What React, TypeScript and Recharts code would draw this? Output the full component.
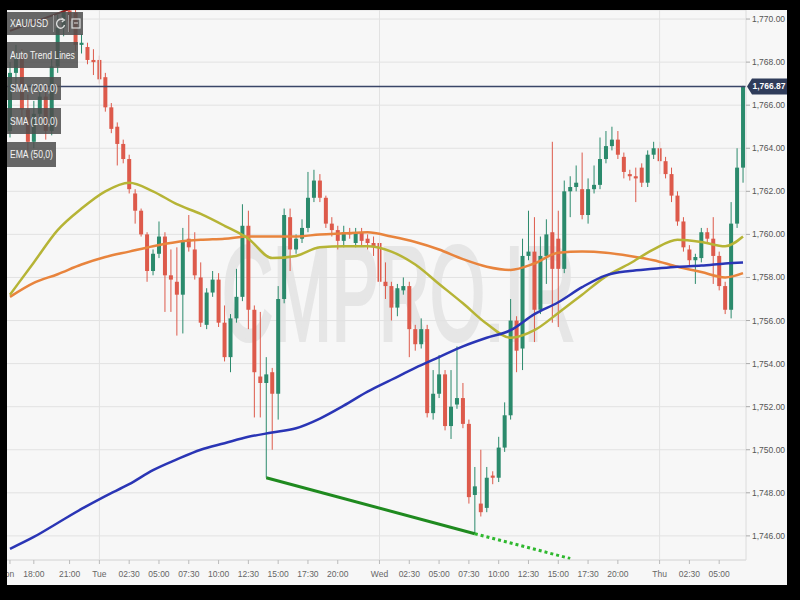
import { Bar, CartesianGrid, ComposedChart, Line, ReferenceLine, XAxis, YAxis } from 'recharts'

// 30-minute XAU/USD candles (Mon evening .. Thu morning)
const opens = [
  1764.8, 1767.5, 1768.3, 1765.8, 1764.3, 1765.6, 1766.4, 1764.8, 1767.8, 1769.6,
  1770.4, 1770.3, 1768.8, 1768.7, 1768.1, 1768.1, 1767.3, 1765.9, 1765.0, 1764.2,
  1763.5, 1761.9, 1761.1, 1760.0, 1758.3, 1759.1, 1759.9, 1758.1, 1757.8, 1757.2,
  1759.8, 1759.3, 1758.0, 1755.8, 1757.3, 1757.9, 1755.9, 1754.3, 1756.1, 1757.1,
  1760.4, 1756.5, 1753.4, 1753.1, 1753.6, 1752.6, 1757.0, 1760.8, 1759.3, 1759.8,
  1760.3, 1761.7, 1762.5, 1761.7, 1760.5, 1760.2, 1759.7, 1760.1, 1759.6, 1760.1,
  1759.8, 1759.6, 1759.6, 1757.8, 1757.6, 1756.6, 1757.4, 1757.6, 1755.6, 1754.9,
  1755.6, 1751.7, 1752.6, 1753.5, 1751.1, 1752.1, 1752.4, 1751.2, 1747.9, 1747.5,
  1747.3, 1748.8, 1748.7, 1750.1, 1751.6, 1756.0, 1754.7, 1759.0, 1759.2, 1756.5,
  1759.0, 1760.1, 1759.8, 1758.4, 1762.0, 1762.2, 1762.1, 1760.9, 1762.1, 1762.3,
  1763.5, 1764.1, 1764.4, 1763.6, 1762.8, 1762.7, 1763.1, 1762.4, 1763.7, 1764.0,
  1763.4, 1762.8, 1761.8, 1760.6, 1759.3, 1758.8, 1758.9, 1760.1, 1759.8, 1759.0,
  1757.6, 1756.5, 1760.5, 1763.1,
]
const highs = [
  1768.0, 1768.8, 1768.6, 1766.5, 1766.2, 1767.0, 1766.8, 1768.2, 1770.2, 1770.6,
  1770.6, 1770.5, 1769.3, 1768.9, 1768.6, 1768.3, 1767.5, 1766.1, 1765.2, 1764.4,
  1763.7, 1762.1, 1761.2, 1760.1, 1759.3, 1760.6, 1760.1, 1759.3, 1759.4, 1760.3,
  1760.9, 1760.1, 1758.7, 1757.5, 1758.3, 1758.2, 1756.7, 1756.3, 1758.4, 1761.4,
  1761.1, 1756.7, 1756.4, 1754.3, 1753.8, 1757.6, 1761.2, 1761.2, 1760.0, 1760.7,
  1762.9, 1763.0, 1762.8, 1761.8, 1760.8, 1760.4, 1760.4, 1760.3, 1760.3, 1760.3,
  1760.0, 1759.9, 1759.8, 1758.7, 1757.8, 1757.7, 1758.0, 1757.8, 1755.8, 1756.1,
  1755.8, 1753.7, 1754.4, 1753.7, 1753.7, 1754.8, 1753.1, 1751.4, 1749.2, 1750.0,
  1749.2, 1749.0, 1750.6, 1752.2, 1757.0, 1756.2, 1759.8, 1761.1, 1760.8, 1759.9,
  1760.7, 1764.3, 1761.1, 1762.5, 1762.7, 1763.2, 1763.8, 1762.6, 1763.2, 1764.5,
  1764.8, 1765.0, 1764.8, 1763.8, 1763.0, 1763.1, 1763.3, 1763.9, 1764.3, 1764.3,
  1763.6, 1763.1, 1762.0, 1760.8, 1759.5, 1759.1, 1760.3, 1760.3, 1760.8, 1759.2,
  1757.8, 1761.5, 1764.0, 1766.9,
]
const lows = [
  1764.5, 1767.0, 1765.2, 1763.9, 1764.0, 1765.2, 1764.4, 1764.6, 1767.5, 1769.2,
  1769.4, 1768.5, 1768.4, 1767.9, 1767.4, 1767.0, 1765.7, 1764.7, 1763.2, 1763.3,
  1761.9, 1760.5, 1759.9, 1757.8, 1758.1, 1758.9, 1756.4, 1756.4, 1755.3, 1755.4,
  1759.2, 1757.9, 1755.7, 1755.6, 1757.1, 1755.7, 1754.1, 1753.6, 1755.9, 1756.9,
  1755.6, 1751.5, 1751.5, 1748.7, 1750.0, 1751.4, 1756.8, 1758.3, 1759.1, 1759.6,
  1760.1, 1761.5, 1761.5, 1760.3, 1759.9, 1759.3, 1759.4, 1759.8, 1759.4, 1759.5,
  1759.3, 1759.0, 1757.6, 1757.0, 1756.0, 1756.2, 1757.2, 1754.3, 1754.6, 1754.7,
  1751.5, 1751.4, 1752.4, 1750.9, 1750.5, 1751.9, 1751.0, 1747.5, 1746.1, 1746.9,
  1747.1, 1748.4, 1748.5, 1749.9, 1751.4, 1753.6, 1753.7, 1758.8, 1755.0, 1756.3,
  1757.7, 1755.9, 1755.7, 1758.2, 1760.8, 1762.0, 1760.7, 1760.5, 1761.9, 1762.1,
  1763.3, 1763.9, 1763.5, 1762.6, 1762.5, 1761.5, 1762.2, 1762.2, 1763.5, 1762.8,
  1762.6, 1761.5, 1760.4, 1759.2, 1758.5, 1757.7, 1758.7, 1759.6, 1757.7, 1757.4,
  1756.3, 1756.1, 1760.3, 1762.4,
]
const closes = [
  1767.5, 1768.3, 1765.8, 1764.3, 1765.6, 1766.4, 1764.8, 1767.8, 1769.6, 1770.4,
  1769.9, 1768.8, 1768.9, 1768.1, 1768.0, 1767.2, 1765.9, 1764.9, 1764.2, 1763.5,
  1762.1, 1761.1, 1760.0, 1758.3, 1759.1, 1759.9, 1758.1, 1757.9, 1757.2, 1759.7,
  1759.4, 1758.1, 1755.9, 1757.3, 1757.9, 1755.9, 1754.3, 1756.1, 1757.1, 1760.4,
  1756.5, 1753.6, 1753.1, 1753.5, 1752.6, 1757.0, 1760.9, 1759.3, 1759.8, 1760.3,
  1761.7, 1762.5, 1761.7, 1760.5, 1760.2, 1759.7, 1760.1, 1760.0, 1760.1, 1759.7,
  1759.6, 1759.4, 1757.8, 1757.6, 1756.6, 1757.5, 1757.6, 1755.6, 1754.9, 1755.6,
  1751.7, 1752.6, 1753.5, 1751.1, 1752.0, 1752.4, 1751.2, 1747.8, 1748.3, 1747.1,
  1748.7, 1748.7, 1750.1, 1751.6, 1756.0, 1754.6, 1759.0, 1759.2, 1756.5, 1759.0,
  1760.0, 1758.4, 1758.4, 1762.0, 1762.2, 1762.4, 1760.9, 1762.1, 1762.3, 1763.5,
  1764.1, 1764.4, 1763.7, 1762.9, 1762.7, 1762.6, 1762.4, 1763.7, 1764.0, 1763.4,
  1762.8, 1761.8, 1760.6, 1759.4, 1758.8, 1758.95, 1760.1, 1759.8, 1759.0, 1757.6,
  1756.5, 1760.5, 1763.1, 1766.87,
]

// moving averages, sampled every 4th candle
const lineIdx = [0, 4, 8, 12, 16, 20, 24, 28, 32, 36, 40, 44, 48, 52, 56, 60, 64, 68, 72, 76, 80, 84, 88, 92, 96, 100, 104, 108, 112, 116, 120, 123]
const ema50 = [
  1757.2, 1758.7, 1760.2, 1761.2, 1762.0, 1762.4, 1762.0, 1761.4, 1760.95, 1760.4,
  1759.8, 1758.9, 1759.0, 1759.4, 1759.45, 1759.45, 1759.2, 1758.6, 1757.7, 1756.8,
  1755.85, 1755.2, 1755.55, 1756.35, 1757.2, 1758.05, 1758.65, 1759.3, 1759.75, 1759.65,
  1759.45, 1759.9,
]
const sma100 = [
  1757.1, 1757.75, 1758.15, 1758.6, 1758.95, 1759.2, 1759.45, 1759.65, 1759.75, 1759.8,
  1759.9, 1759.9, 1759.9, 1760.0, 1760.05, 1760.1, 1759.9, 1759.65, 1759.3, 1758.85,
  1758.5, 1758.35, 1758.65, 1759.15, 1759.2, 1759.15, 1759.0, 1758.8, 1758.5, 1758.25,
  1758.0, 1758.2,
]
const sma200 = [
  1745.4, 1745.95, 1746.6, 1747.25, 1747.85, 1748.4, 1749.05, 1749.55, 1750.0, 1750.3,
  1750.6, 1750.8, 1751.0, 1751.45, 1752.05, 1752.7, 1753.25, 1753.8, 1754.3, 1754.8,
  1755.2, 1755.55, 1756.3, 1756.85, 1757.55, 1758.1, 1758.3, 1758.4, 1758.5, 1758.55,
  1758.65, 1758.7,
]

// auto trend lines
const supportIdx = [43, 78]
const supportVal = [1748.7, 1746.1]
const supportExtIdx = [78, 94]
const supportExtVal = [1746.1, 1744.95]
const resistIdx = [0, 10]
const resistVal = [1769.45, 1770.46]

const tickIdx = [0, 4, 10, 15, 20, 25, 30, 35, 40, 45, 50, 55, 62, 67, 72, 77, 82, 87, 92, 97, 102, 109, 114, 119]
const tickLabels = [
  'Mon', '18:00', '21:00', 'Tue', '02:30', '05:00', '07:30', '10:00', '12:30', '15:00', '17:30', '20:00',
  'Wed', '02:30', '05:00', '07:30', '10:00', '12:30', '15:00', '17:30', '20:00', 'Thu', '02:30', '05:00',
]
const dayStarts = [15, 62, 109]
const priceTicks = [1746, 1748, 1750, 1752, 1754, 1756, 1758, 1760, 1762, 1764, 1766, 1768, 1770]

const GREEN = '#2b8a6c'
const RED = '#dd5a4b'
const FONT = "'Liberation Sans', Arial, sans-serif"

const pick = (idx: number[], vals: number[], i: number) => {
  const k = idx.indexOf(i)
  return k >= 0 ? vals[k] : null
}

const data = opens.map((o, i) => ({
  i,
  o,
  h: highs[i],
  l: lows[i],
  c: closes[i],
  range: [lows[i], highs[i]],
  ema: pick(lineIdx, ema50, i),
  sma100: pick(lineIdx, sma100, i),
  sma200: pick(lineIdx, sma200, i),
  support: pick(supportIdx, supportVal, i),
  supportExt: pick(supportExtIdx, supportExtVal, i),
  resist: pick(resistIdx, resistVal, i),
}))

const fmtPrice = (v: number) =>
  v.toLocaleString('en-US', { minimumFractionDigits: 2, maximumFractionDigits: 2 })

function Candle(props: any) {
  const { x, y, width, height, payload } = props
  if (!payload || width == null) return null
  const top = Math.min(y, y + height)
  const bot = Math.max(y, y + height)
  const { o, h, l, c } = payload
  const span = h - l || 1
  const py = (p: number) => top + ((h - p) / span) * (bot - top)
  const color = c >= o ? GREEN : RED
  const cx = x + width / 2
  const bt = py(Math.max(o, c))
  const bb = py(Math.min(o, c))
  return (
    <g>
      <line x1={cx} x2={cx} y1={top} y2={bot} stroke={color} strokeWidth={1} />
      <rect x={x} y={bt} width={width} height={Math.max(1, bb - bt)} fill={color} />
    </g>
  )
}

function PriceTag(props: any) {
  const vb = props.viewBox
  if (!vb) return null
  const x0 = vb.x + vb.width
  const y0 = vb.y
  return (
    <g>
      <path
        d={`M${x0 + 1},${y0} L${x0 + 6},${y0 - 8} L${x0 + 41},${y0 - 8} L${x0 + 41},${y0 + 8} L${x0 + 6},${y0 + 8} Z`}
        fill="#2f3c5a"
      />
      <text x={x0 + 23} y={y0} dy="0.35em" textAnchor="middle" fill="#fff" fontSize={8.5} fontWeight="bold" fontFamily={FONT}>
        {fmtPrice(closes[closes.length - 1])}
      </text>
    </g>
  )
}

function TimeTick(props: any) {
  const { x, y, payload } = props
  const k = tickIdx.indexOf(payload.value)
  const label = k >= 0 ? tickLabels[k] : ''
  return (
    <text x={label === 'Mon' ? x - 4 : x} y={y} dy="0.71em" textAnchor="middle" fontSize={8.5} fill="#666" fontFamily={FONT}>
      {label}
    </text>
  )
}

function PriceTick(props: any) {
  const { x, y, payload } = props
  return (
    <text x={x} y={y} dy="0.35em" textAnchor="start" fontSize={8.5} fill="#555" fontFamily={FONT}>
      {fmtPrice(payload.value)}
    </text>
  )
}

const boxStyle = {
  position: 'absolute' as const,
  left: 0,
  background: 'rgba(78,78,78,0.86)',
  color: '#f2f2f2',
  fontFamily: FONT,
  fontSize: 11,
  paddingLeft: 3,
  boxSizing: 'border-box' as const,
  whiteSpace: 'nowrap' as const,
}
const squeeze = { display: 'inline-block', transform: 'scaleX(0.78)', transformOrigin: 'left center' }

export default function App() {
  return (
    <div style={{ position: 'absolute', left: 0, top: 0, width: 800, height: 600, background: '#000' }}>
      <div style={{ position: 'absolute', left: 7, top: 10, width: 780, height: 575, background: '#f7f7f7', overflow: 'hidden' }}>
        <svg width={780} height={575} style={{ position: 'absolute', left: 0, top: 0 }}>
          <text
            transform="translate(215,330) scale(0.527,1)"
            fontSize={134}
            fill="#e6e6e6"
            stroke="#e6e6e6"
            strokeWidth={4}
            fontFamily={FONT}
          >
            CMPRO.IR
          </text>
        </svg>
        <div style={{ position: 'absolute', left: 0, top: 0 }}>
          <ComposedChart width={780} height={575} data={data} margin={{ top: 0, right: 0, bottom: 0, left: 0 }}>
            <CartesianGrid vertical={false} stroke="#e2e2e2" />
            {dayStarts.map((d) => (
              <ReferenceLine key={d} x={d} stroke="#e2e2e2" />
            ))}
            <XAxis
              dataKey="i"
              type="category"
              ticks={tickIdx}
              interval={0}
              height={25}
              tickSize={4}
              tickMargin={7}
              axisLine={{ stroke: '#dcdcdc' }}
              tickLine={{ stroke: '#bbb' }}
              tick={<TimeTick />}
            />
            <YAxis
              orientation="right"
              width={41}
              domain={[1744.88, 1770.42]}
              allowDataOverflow
              ticks={priceTicks}
              tickSize={4}
              tickMargin={2}
              axisLine={{ stroke: '#dcdcdc' }}
              tickLine={{ stroke: '#aaa' }}
              tick={<PriceTick />}
            />
            <Bar dataKey="range" barSize={4} shape={<Candle />} isAnimationActive={false} />
            <Line type="monotone" dataKey="sma100" stroke="#e8843d" strokeWidth={2.5} dot={false} connectNulls isAnimationActive={false} />
            <Line type="monotone" dataKey="ema" stroke="#b6b436" strokeWidth={2.5} dot={false} connectNulls isAnimationActive={false} />
            <Line type="monotone" dataKey="sma200" stroke="#2a35b5" strokeWidth={2.5} dot={false} connectNulls isAnimationActive={false} />
            <Line type="linear" dataKey="support" stroke="#1f8a1f" strokeWidth={3} dot={false} connectNulls isAnimationActive={false} />
            <Line type="linear" dataKey="supportExt" stroke="#2fb82f" strokeWidth={3} strokeDasharray="3 3" dot={false} connectNulls isAnimationActive={false} />
            <Line type="linear" dataKey="resist" stroke="#8e1d1d" strokeWidth={2} dot={false} connectNulls isAnimationActive={false} />
            <ReferenceLine y={closes[closes.length - 1]} stroke="#3a4668" strokeWidth={1.5} label={<PriceTag />} />
          </ComposedChart>
        </div>
        <div style={{ ...boxStyle, top: 2, width: 76, height: 23, lineHeight: '23px', paddingLeft: 0 }}>
          <span style={{ ...squeeze, marginLeft: 3 }}>XAU/USD</span>
          <span style={{ position: 'absolute', left: 46, top: 3, width: 1, height: 17, background: '#999' }} />
          <svg style={{ position: 'absolute', left: 49, top: 5 }} width={10} height={13}>
            <path d="M7,3 A4,4.5 0 1 0 8.5,8" fill="none" stroke="#ddd" strokeWidth={1.4} />
            <path d="M5.5,1 L8.5,3 L5.8,5" fill="none" stroke="#ddd" strokeWidth={1.2} />
          </svg>
          <span style={{ position: 'absolute', left: 61, top: 3, width: 1, height: 17, background: '#999' }} />
          <svg style={{ position: 'absolute', left: 64, top: 5 }} width={10} height={13}>
            <rect x={1} y={2} width={8} height={9} fill="none" stroke="#ddd" strokeWidth={1.2} />
            <line x1={3} x2={7} y1={6} y2={6} stroke="#ddd" strokeWidth={1} />
          </svg>
        </div>
        <div style={{ ...boxStyle, top: 32, width: 71, height: 26, lineHeight: '26px' }}>
          <span style={squeeze}>Auto Trend Lines</span>
        </div>
        <div style={{ ...boxStyle, top: 67, width: 54, height: 23, lineHeight: '23px' }}>
          <span style={squeeze}>SMA (200,0)</span>
        </div>
        <div style={{ ...boxStyle, top: 98, width: 54, height: 26, lineHeight: '26px' }}>
          <span style={squeeze}>SMA (100,0)</span>
        </div>
        <div style={{ ...boxStyle, top: 132, width: 49, height: 25, lineHeight: '25px' }}>
          <span style={squeeze}>EMA (50,0)</span>
        </div>
      </div>
    </div>
  )
}
